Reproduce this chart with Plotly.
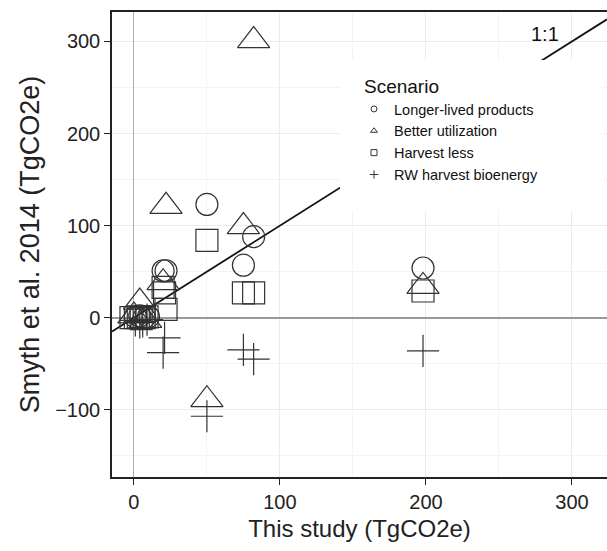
import plotly.graph_objects as go

# ---- data ----
scenarios = ["Longer-lived products", "Better utilization", "Harvest less", "RW harvest bioenergy"]

longer_x = [1, 4, 7, 10, 20, 22, 50, 75, 82, 198]
longer_y = [1, 2, 0, 1, 51, 51, 123, 57, 88, 54]

better_x = [0, 4, 8, 20, 22, 50, 75, 82, 198]
better_y = [2, 17, -3, 38, 121, -89, 99, 301, 34]

harvest_x = [-2, 1, 3, 5, 7, 9, 20, 21, 22, 50, 75, 82, 198]
harvest_y = [0, 0, 1, -1, 0, 1, 33, 27, 9, 84, 27, 27, 29]

rw_x = [1, 4, 6, 9, 21, 20, 50, 75, 82, 198]
rw_y = [-3, -5, -4, -2, -22, -38, -107, -35, -45, -36]

x_range = [-15, 324]
y_range = [-173, 332]
x_ticks = [0, 100, 200, 300]
y_ticks = [-100, 0, 100, 200, 300]

FONT = "Liberation Sans, Arial, sans-serif"
INK = "#333333"

series = [
    (scenarios[0], longer_x, longer_y, "circle-open", 22),
    (scenarios[1], better_x, better_y, "triangle-up-open", 28),
    (scenarios[2], harvest_x, harvest_y, "square-open", 22),
    (scenarios[3], rw_x, rw_y, "cross-thin-open", 23),
]

# plot area target: x 112..607, y 12..477 (absolute px)
def px_x(X):
    return (X - 112) / 495


def px_y(Y):
    return (477 - Y) / 465


fig = go.Figure()

# 1:1 line across the full axis range
fig.add_trace(go.Scatter(x=x_range, y=x_range, mode="lines",
                         line=dict(color="#111111", width=1.8),
                         showlegend=False, hoverinfo="skip"))

for name, xs, ys, sym, sz in series:
    fig.add_trace(go.Scatter(x=xs, y=ys, mode="markers", name=name,
                             marker=dict(symbol=sym, size=sz, color=INK,
                                         line=dict(color=INK, width=1.2)),
                             showlegend=False))
    # small legend marker
    fig.add_trace(go.Scatter(x=[None], y=[None], mode="markers", name=name,
                             marker=dict(symbol=sym, size=6, color=INK,
                                         line=dict(color=INK, width=1))))

# white box behind the legend (hides grid and 1:1 line as in the reference)
fig.add_shape(type="rect", xref="paper", yref="paper",
              x0=px_x(340), x1=px_x(603), y0=px_y(211), y1=px_y(60),
              fillcolor="white", line=dict(width=0), layer="above")

fig.add_annotation(text="1:1", xref="paper", yref="paper",
                   x=px_x(545), y=px_y(34), xanchor="center", yanchor="middle",
                   showarrow=False, font=dict(family=FONT, size=20, color="#111111"))

fig.add_annotation(text="Scenario", xref="paper", yref="paper",
                   x=px_x(362), y=px_y(86), xanchor="left", yanchor="middle",
                   showarrow=False, font=dict(family=FONT, size=19, color="#111111"))

axis_common = dict(
    showline=True, linecolor="#222222", linewidth=1.5,
    ticks="outside", ticklen=6, tickcolor="#222222", tickwidth=1.3,
    tickfont=dict(family=FONT, size=20, color="#222222"),
    showgrid=True, gridcolor="#ececec", gridwidth=1,
    minor=dict(showgrid=True, gridcolor="#f4f4f4", gridwidth=1),
)

fig.update_layout(
    width=607, height=551,
    margin=dict(l=112, r=0, t=12, b=74),
    paper_bgcolor="white", plot_bgcolor="white",
    font=dict(family=FONT, color="#222222"),
    xaxis=dict(range=x_range, tickvals=x_ticks, mirror=True,
               zeroline=True, zerolinecolor="#b0b0b0", zerolinewidth=1,
               title=dict(text="This study (TgCO2e)", standoff=8,
                          font=dict(family=FONT, size=24, color="#222222")),
               minor_dtick=50, **axis_common),
    yaxis=dict(range=y_range, tickvals=y_ticks, mirror=False,
               zeroline=True, zerolinecolor="#999999", zerolinewidth=1.8,
               title=dict(text="Smyth et al. 2014 (TgCO2e)", standoff=8,
                          font=dict(family=FONT, size=27, color="#222222")),
               minor_dtick=50, **axis_common),
    legend=dict(x=px_x(354), y=px_y(93), xanchor="left", yanchor="top",
                bgcolor="rgba(0,0,0,0)",
                font=dict(family=FONT, size=14.5, color="#111111"),
                itemsizing="trace"),
)

fig.write_html(
    "out.html",
    config={"displayModeBar": False},
    post_script="document.body.style.margin='0';"
                "document.documentElement.style.overflow='hidden';",
)
